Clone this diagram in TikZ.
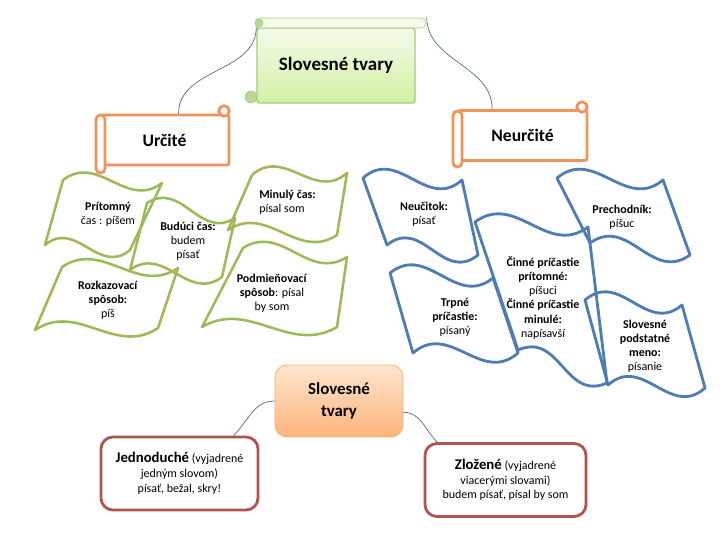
\documentclass[tikz,border=0pt]{standalone}
\usepackage{fontspec}
\setmainfont{Carlito}
\usetikzlibrary{calc}

\definecolor{flaggreen}{HTML}{9BBB59}
\definecolor{flagblue}{HTML}{4F7DB3}
\definecolor{scrollorange}{HTML}{F0955A}
\definecolor{boxred}{HTML}{B05450}
\definecolor{linkgray}{HTML}{50708C}
\definecolor{topline}{HTML}{A9C97A}
\definecolor{toplight}{HTML}{F4FBEA}
\definecolor{topdark}{HTML}{D2F0A4}
\definecolor{topcurl}{HTML}{BDD595}
\definecolor{peachlight}{HTML}{FFE6CF}
\definecolor{peachdark}{HTML}{FBB47A}

\newcommand{\flag}[6]{%
    \draw[#1] (#2) .. controls ($(#2)!0.35!(#3)!#6!90:(#3)$) and ($(#2)!0.65!(#3)!#6!-90:(#3)$) .. (#3)
        -- (#4) .. controls ($(#4)!0.35!(#5)!#6!90:(#5)$) and ($(#4)!0.65!(#5)!#6!-90:(#5)$) .. (#5) -- cycle;}

\begin{document}
\begin{tikzpicture}[x=0.025cm, y=-0.025cm,
    green_flag/.style={draw=flaggreen, line width=1.8pt, line join=round},
    blue_flag/.style={draw=flagblue, line width=2pt, line join=round},
    flag_text/.style={align=center, inner sep=0pt, font=\fontsize{8.5}{10}\selectfont},
    scroll_node/.style={draw=scrollorange, line width=2pt, fill=white, rounded corners=1.5pt, minimum width=3.225cm, minimum height=1.25cm, font=\bfseries\fontsize{12.5}{14}\selectfont},
    scroll_roll/.style={draw=scrollorange, line width=2pt, fill=white, rounded corners=0.11cm},
    top_node/.style={draw=topline, line width=1pt, top color=toplight, bottom color=topdark, rounded corners=2pt, minimum width=3.95cm, minimum height=1.875cm, font=\bfseries\fontsize{13.5}{15}\selectfont},
    center_node/.style={draw=peachdark, line width=0.6pt, top color=peachlight, bottom color=peachdark, rounded corners=0.3cm, minimum width=3.2cm, minimum height=1.8cm, align=center, font=\bfseries\fontsize{12}{16}\selectfont},
    red_node/.style={draw=boxred, line width=2pt, fill=white, rounded corners=0.3cm, minimum height=1.825cm, align=center, font=\fontsize{8.5}{10.5}\selectfont},
    link/.style={draw=linkgray, line width=0.5pt}]

    \fill[white] (0,0) rectangle (720,540);

    \draw[topline, fill=topcurl] (251,97) circle[radius=0.15cm];
    \node[top_node] (tvary) at (336,65.5) {Slovesné tvary};
    \draw[topline, fill=toplight, rounded corners=0.12cm] (255,18) rectangle (426,28);
    \draw[topline, fill=topcurl] (259,23) circle[radius=0.1cm];

    \node[scroll_node] (urcite) at (164.5,140) {Určité};
    \draw[scroll_roll] (96,115) rectangle (105,173);
    \draw[scroll_roll] (224,111) circle[radius=0.13cm];
    \node[scroll_node] (neurcite) at (522.5,135.5) {Neurčité};
    \draw[scroll_roll] (453,111) rectangle (462,167);
    \draw[scroll_roll] (582,107) circle[radius=0.13cm];

    \draw[link] (tvary.north west) to[out=-90,in=90] (urcite.62);
    \draw[link] ($(tvary.north east)+(11,-10)$) to[out=-90,in=90] (neurcite.139);

    \flag{green_flag}{63,180}{162,183}{130,250}{45,245}{0.7cm}
    \flag{green_flag}{147,203}{235,218}{222,277}{130,270}{0.7cm}
    \flag{green_flag}{252,175}{347,173}{337,235}{228,230}{0.7cm}
    \flag{green_flag}{62,267}{178,268}{158,328}{35,330}{0.7cm}
    \flag{green_flag}{243,248}{347,257}{337,327}{202,327}{0.7cm}

    \flag{blue_flag}{363,178}{462,180}{478,255}{387,245}{0.8cm}
    \flag{blue_flag}{557,178}{663,180}{690,255}{590,243}{0.8cm}
    \flag{blue_flag}{475,222}{588,227}{607,383}{518,350}{0.8cm}
    \flag{blue_flag}{390,273}{493,278}{518,353}{413,353}{0.8cm}
    \flag{blue_flag}{585,300}{682,305}{705,388}{608,385}{0.8cm}

    \node[flag_text] (pritomny) at (108,214) {\textbf{Prítomný}\\čas : píšem};
    \node[flag_text] (buduci) at (188,241) {\textbf{Budúci čas:}\\budem\\písať};
    \node[flag_text, align=left, anchor=west] (minuly) at (259,202) {\textbf{Minulý čas:}\\písal som};
    \node[flag_text] (rozkaz) at (108,300) {\textbf{Rozkazovací}\\\textbf{spôsob:}\\píš};
    \node[flag_text] (podmien) at (272,293) {\textbf{Podmieňovací}\\\textbf{spôsob}: písal\\by som};
    \node[flag_text] (neucitok) at (424,214) {\textbf{Neučitok:}\\písať};
    \node[flag_text] (prechodnik) at (622,217) {\textbf{Prechodník:}\\píšuc};
    \node[flag_text] (cinne) at (543,298) {\textbf{Činné príčastie}\\\textbf{prítomné:}\\píšuci\\\textbf{Činné príčastie}\\\textbf{minulé:}\\napísavší};
    \node[flag_text] (trpne) at (455,317) {\textbf{Trpné}\\\textbf{príčastie:}\\písaný};
    \node[flag_text] (podstatne) at (645,346) {\textbf{Slovesné}\\\textbf{podstatné}\\\textbf{meno:}\\písanie};

    \node[center_node] (tvary2) at (339,401) {Slovesné\\tvary};
    \node[red_node, minimum width=3.925cm] (jedno) at (179.5,473.5) {{\bfseries\fontsize{10.5}{11}\selectfont Jednoduché} (vyjadrené\\jedným slovom)\\písať, bežal, skry!};
    \node[red_node, minimum width=4.025cm] (zloz) at (505.5,480) {{\bfseries\fontsize{10.5}{11}\selectfont Zložené} (vyjadrené\\viacerými slovami)\\budem písať, písal by som};

    \draw[link] (tvary2.west) to[out=180,in=45] (jedno.35);
    \draw[link] (tvary2.-10) to[out=0,in=135] (zloz.151);
\end{tikzpicture}
\end{document}
